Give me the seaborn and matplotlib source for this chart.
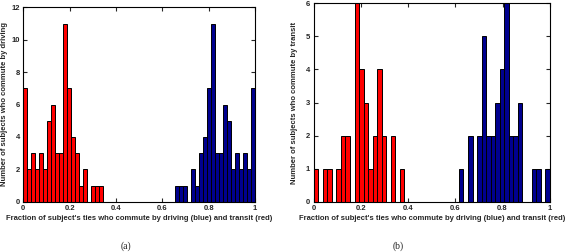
import numpy as np
import pandas as pd
import matplotlib
matplotlib.use("Agg")
import matplotlib.pyplot as plt
import seaborn as sns

sns.set_style("white")
plt.rcParams['font.family'] = ['Liberation Sans', 'DejaVu Sans']

# ---- data: histogram counts per bin ----
# panel (a): 58 equal bins on [0, 1]
bins_a = 58
red_start_a = 0
red_counts_a = [7, 2, 3, 2, 3, 2, 5, 6, 3, 3, 11, 7, 4, 3, 1, 2, 0, 1, 1, 1]
blue_start_a = 38
blue_counts_a = [1, 1, 1, 0, 2, 1, 3, 4, 7, 11, 3, 3, 6, 5, 2, 3, 2, 3, 2, 7]

# panel (b): 52 equal bins on [0, 1]
bins_b = 52
red_start_b = 0
red_counts_b = [1, 0, 1, 1, 0, 1, 2, 2, 0, 6, 4, 3, 1, 2, 4, 2, 0, 2, 0, 1]
blue_start_b = 32
blue_counts_b = [1, 0, 2, 0, 2, 5, 2, 2, 3, 4, 6, 2, 2, 3, 0, 0, 1, 1, 0, 1]

xticks = [0, 0.2, 0.4, 0.6, 0.8, 1]
xticklabels = ["0", "0.2", "0.4", "0.6", "0.8", "1"]
yticks_a = [0, 2, 4, 6, 8, 10, 12]
yticks_b = [0, 1, 2, 3, 4, 5, 6]
xlabel = "Fraction of subject's ties who commute by driving (blue) and transit (red)"
ylabel_a = "Number of subjects who commute by driving"
ylabel_b = "Number of subjects who commute by transit"
captions = ["(a)", "(b)"]

RED = "#FF0000"
BLUE = "#00008F"


def frame(nbins, start, counts, color):
    centers = (np.arange(start, start + len(counts)) + 0.5) / nbins
    return pd.DataFrame({"x": centers, "w": counts, "c": color})


W, H = 567, 252
fig = plt.figure(figsize=(W / 100, H / 100), dpi=100)

def add_ax(x0, y0, x1, y1):
    return fig.add_axes([x0 / W, 1 - y1 / H, (x1 - x0) / W, (y1 - y0) / H])

ax_a = add_ax(23.3, 7.3, 255.0, 201.7)
ax_b = add_ax(313.7, 3.3, 549.7, 201.7)

panels = [
    (ax_a, bins_a, red_start_a, red_counts_a, blue_start_a, blue_counts_a, yticks_a, ylabel_a, 8.5),
    (ax_b, bins_b, red_start_b, red_counts_b, blue_start_b, blue_counts_b, yticks_b, ylabel_b, 297.5),
]

fs = 5.5
for ax, nb, rs, rc, bs, bc, yt, yl, ylx in panels:
    for start, counts, col in [(rs, rc, RED), (bs, bc, BLUE)]:
        df = frame(nb, start, counts, col)
        sns.histplot(data=df, x="x", weights="w", bins=nb, binrange=(0, 1),
                     color=col, alpha=1, edgecolor="black", linewidth=0.7, ax=ax)
    ax.set_xlim(0, 1)
    ax.set_ylim(yt[0], yt[-1])
    ax.set_xticks(xticks)
    ax.set_xticklabels(xticklabels)
    ax.set_yticks(yt)
    ax.tick_params(direction="in", length=3, width=0.8, labelsize=fs, pad=2.5,
                   top=True, right=True, bottom=True, left=True)
    for lab in ax.get_xticklabels() + ax.get_yticklabels():
        lab.set_fontweight("bold")
    for s in ax.spines.values():
        s.set_visible(True)
        s.set_linewidth(0.8)
        s.set_color("black")
    ax.set_xlabel(xlabel, fontsize=fs, fontweight="bold", labelpad=2)
    ax.set_ylabel(yl, fontsize=fs, fontweight="bold")
    bb = ax.get_position()
    ax.yaxis.set_label_coords((ylx / W - bb.x0) / bb.width, 0.5)

fig.text(126 / W, 1 - 246 / H, captions[0], ha="center", va="center",
         fontsize=7, family="Liberation Serif")
fig.text(398 / W, 1 - 246 / H, captions[1], ha="center", va="center",
         fontsize=7, family="Liberation Serif")

fig.savefig("out.png", dpi=100, facecolor="white")
